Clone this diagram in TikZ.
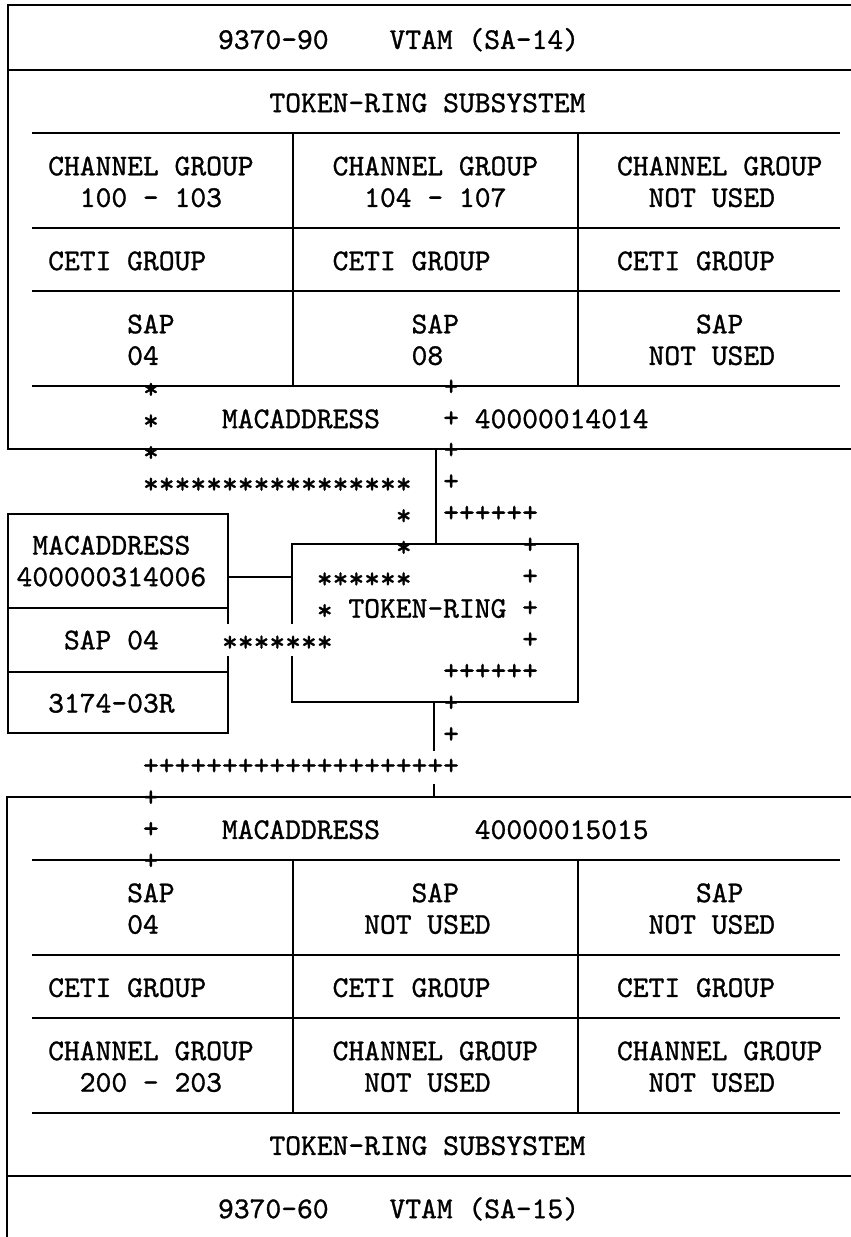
\documentclass[tikz,border=0pt]{standalone}
\usepackage{fontspec}
\setmonofont[FakeBold=1]{lmmono10-regular.otf}
\newlength{\chw}
\def\fsz{30.1}
\AtBeginDocument{%
  \settowidth{\chw}{\fontsize{10}{12}\selectfont\ttfamily M}%
  \ifdim\chw>1pt
    \pgfmathsetmacro{\fsztmp}{10*15.8/\chw}\xdef\fsz{\fsztmp}%
  \fi}
\newcommand{\cx}[1]{143+15.8*(#1)}
\newcommand{\ry}[1]{6.5+31.6*(#1)}
\newcommand{\txt}[5][tx]{\node[#1] (#2) at ({\cx{#3}},{\ry{#4}+10.8}) {#5};}
\newcommand{\hr}[3]{\draw[rule] ({#1},{\ry{#3}}) -- ({#2},{\ry{#3}});}
\begin{document}
\begin{tikzpicture}[x=1pt,y=-1pt]
\tikzset{
  rule/.style={line width=2pt, line cap=rect},
  tx/.style={anchor=base west, inner sep=0pt, outer sep=0pt, font=\fontsize{\fsz}{\fsz}\selectfont\ttfamily},
  sk/.style={tx, yshift=-2pt},
  pl/.style={tx, yshift=1pt}
}
\useasboundingbox (0,0) rectangle (851,1237);
\fill[white] (0,0) rectangle (851,1237);

% ---------- top box ----------
\draw[rule] (851,5) -- (8,5) -- (8,{\ry{14}}) -- (851,{\ry{14}});
\hr{8}{851}{2}
\hr{33}{839}{4}
\hr{33}{839}{7}
\hr{33}{839}{9}
\hr{33}{839}{12}
\draw[rule] (293,{\ry{4}}) -- (293,{\ry{12}});
\draw[rule] (578,{\ry{4}}) -- (578,{\ry{12}});

\txt{t1}{4.75}{1}{9370-90}
\txt{t2}{15.6}{1}{VTAM (SA-14)}
\txt{t3}{8}{3}{TOKEN-RING SUBSYSTEM}
\txt{c1a}{-6}{5}{CHANNEL GROUP}
\txt{c1b}{-4}{6}{100 - 103}
\txt{c2a}{12}{5}{CHANNEL GROUP}
\txt{c2b}{14}{6}{104 - 107}
\txt{c3a}{30}{5}{CHANNEL GROUP}
\txt{c3b}{32}{6}{NOT USED}
\txt{e1}{-6}{8}{CETI GROUP}
\txt{e2}{12}{8}{CETI GROUP}
\txt{e3}{30}{8}{CETI GROUP}
\txt{s1a}{-1}{10}{SAP}
\txt{s1b}{-1}{11}{04}
\txt{s2a}{17}{10}{SAP}
\txt{s2b}{17}{11}{08}
\txt{s3a}{35}{10}{SAP}
\txt{s3b}{32}{11}{NOT USED}
\txt[sk]{r12a}{0}{12}{*}
\txt[pl]{r12b}{19}{12}{+}
\txt[sk]{r13a}{0}{13}{*}
\txt{r13b}{5}{13}{MACADDRESS}
\txt[pl]{r13c}{19}{13}{+}
\txt{r13d}{21}{13}{40000014014}
\txt[sk]{r14a}{0}{14}{*}
\txt[pl]{r14b}{19}{14}{+}

% ---------- middle ----------
\txt[sk]{r15a}{0}{15}{*****************}
\txt[pl]{r15b}{19}{15}{+}
\txt[sk]{r16a}{16}{16}{*}
\txt[pl]{r16b}{19}{16}{++++++}

% token-ring box
\coordinate (trnw) at (292,{\ry{17}});
\coordinate (trne) at (578,{\ry{17}});
\coordinate (trse) at (578,{\ry{22}});
\coordinate (trsw) at (292,{\ry{22}});
\draw[rule] (292,623) -- (trnw) -- (trne) -- (trse) -- (trsw) -- (292,657);
\txt[sk]{r17a}{16}{17}{*}
\txt[pl]{r17b}{24}{17}{+}
\txt[sk]{r18a}{11}{18}{******}
\txt[pl]{r18b}{24}{18}{+}
\txt[sk]{r19a}{11}{19}{*}
\txt{r19b}{13}{19}{TOKEN-RING}
\txt[pl]{r19c}{24}{19}{+}
\txt[sk]{r20a}{5}{20}{*******}
\txt[pl]{r20b}{24}{20}{+}
\txt[pl]{r21a}{19}{21}{++++++}
\txt[pl]{r22a}{19}{22}{+}
\txt[pl]{r23a}{19}{23}{+}
\txt[pl]{r24a}{0}{24}{++++++++++++++++++++}

% left box (3174)
\coordinate (lbnw) at (7.5,514);
\coordinate (lbne) at (228,514);
\coordinate (lbsw) at (7.5,733);
\coordinate (lbse) at (228,733);
\draw[rule] (228,623) -- (lbne) -- (lbnw) -- (lbsw) -- (lbse) -- (228,657);
\draw[rule] (7.5,608) -- (228,608);
\draw[rule] (7.5,672) -- (228,672);
\txt{l1}{-7}{17}{MACADDRESS}
\txt{l2}{-8}{18}{400000314006}
\txt{l3}{-5}{20}{SAP 04}
\txt{l4}{-6}{22}{3174-03R}

% connectors
\coordinate (lbc) at (228,577);
\coordinate (trc) at (292,577);
\draw[rule] (lbc) -- (trc);
\coordinate (topc) at (436,{\ry{14}});
\coordinate (trtop) at (436,{\ry{17}});
\draw[rule] (topc) -- (trtop);
\coordinate (trbot) at (434,{\ry{22}});
\coordinate (mid1) at (434,750);
\coordinate (mid2) at (434,785);
\coordinate (botc) at (434,{\ry{25}});
\draw[rule] (trbot) -- (mid1);
\draw[rule] (mid2) -- (botc);

% ---------- bottom box ----------
\draw[rule] (851,{\ry{25}}) -- (7,{\ry{25}}) -- (7,1240);
\hr{33}{839}{27}
\hr{33}{839}{30}
\hr{33}{839}{32}
\hr{33}{839}{35}
\hr{7}{851}{37}
\draw[rule] (293,{\ry{27}}) -- (293,{\ry{35}});
\draw[rule] (578,{\ry{27}}) -- (578,{\ry{35}});

\txt[pl]{b25}{0}{25}{+}
\txt[pl]{b26a}{0}{26}{+}
\txt{b26b}{5}{26}{MACADDRESS}
\txt{b26c}{21}{26}{40000015015}
\txt[pl]{b27}{0}{27}{+}
\txt{bs1a}{-1}{28}{SAP}
\txt{bs1b}{-1}{29}{04}
\txt{bs2a}{17}{28}{SAP}
\txt{bs2b}{14}{29}{NOT USED}
\txt{bs3a}{35}{28}{SAP}
\txt{bs3b}{32}{29}{NOT USED}
\txt{be1}{-6}{31}{CETI GROUP}
\txt{be2}{12}{31}{CETI GROUP}
\txt{be3}{30}{31}{CETI GROUP}
\txt{bc1a}{-6}{33}{CHANNEL GROUP}
\txt{bc1b}{-4}{34}{200 - 203}
\txt{bc2a}{12}{33}{CHANNEL GROUP}
\txt{bc2b}{14}{34}{NOT USED}
\txt{bc3a}{30}{33}{CHANNEL GROUP}
\txt{bc3b}{32}{34}{NOT USED}
\txt{bt3}{8}{36}{TOKEN-RING SUBSYSTEM}
\txt{bt1}{4.75}{38}{9370-60}
\txt{bt2}{15.6}{38}{VTAM (SA-15)}
\end{tikzpicture}
\end{document}
